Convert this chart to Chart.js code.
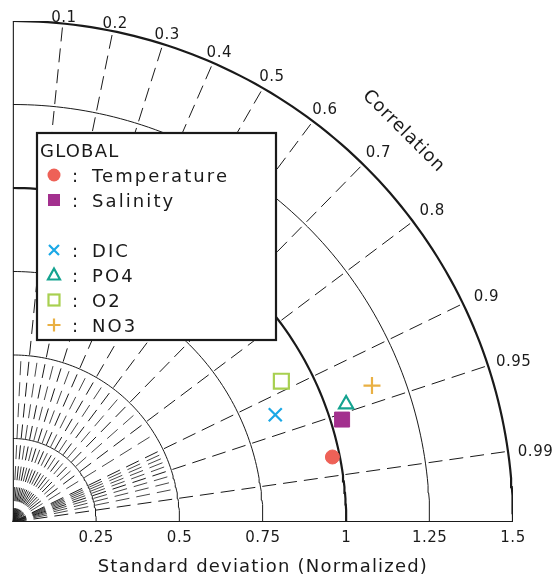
<!DOCTYPE html>
<html>
<head>
<meta charset="utf-8">
<script src="https://cdn.jsdelivr.net/npm/chart.js@4.4.1/dist/chart.umd.min.js"></script>
<style>
  html, body { margin: 0; background: #fff; }
  #wrap { width: 556px; height: 580px; }
</style>
</head>
<body>
<div id="wrap"><canvas id="taylor" width="556" height="580"></canvas></div>
<script>
// data
const variables = ['Temperature', 'Salinity', 'DIC', 'PO4', 'O2', 'NO3'];
const stdDevs = [0.978, 1.034, 0.850, 1.060, 0.909, 1.152];
const correlations = [0.980, 0.955, 0.926, 0.943, 0.886, 0.935];
const markerColors = ['#ee6157', '#a3308e', '#1aa8e6', '#15a390', '#a8d050', '#e9b043'];
const markerStyles = ['circle', 'rect', 'crossRot', 'triangle', 'rect', 'cross'];
const markerFilled = [true, true, false, false, false, false];

const corrTicks = [0.1, 0.2, 0.3, 0.4, 0.5, 0.6, 0.7, 0.8, 0.9, 0.95, 0.99];
const corrTickLabels = ['0.1', '0.2', '0.3', '0.4', '0.5', '0.6', '0.7', '0.8', '0.9', '0.95', '0.99'];
const minorCorr = [0.05, 0.15, 0.25, 0.35, 0.45, 0.55, 0.65, 0.75, 0.85, 0.91, 0.92, 0.93, 0.94, 0.96, 0.97, 0.98];
const stdTicks = [0.25, 0.5, 0.75, 1, 1.25, 1.5];
const stdTickLabels = ['0.25', '0.5', '0.75', '1', '1.25', '1.5'];
const thickArcs = [1, 1.5];

const stdMax = 1.5;
const minorRayLen = 0.5;
const FONT = '"DejaVu Sans", sans-serif';
const INK = '#1a1a1a';

function polar(r, c) {
  return { x: r * c, y: r * Math.sqrt(1 - c * c) };
}

function arcPoints(r) {
  const pts = [];
  for (let a = 0; a <= 90; a += 1) {
    const t = a * Math.PI / 180;
    pts.push({ x: r * Math.cos(t), y: r * Math.sin(t) });
  }
  return pts;
}

const datasets = [];

// markers first so they sit on top
variables.forEach((name, i) => {
  const sizes = { circle: 7, rect: 10.6, crossRot: 9.2, triangle: 8.2, cross: 8.5 };
  datasets.push({
    label: name,
    data: [polar(stdDevs[i], correlations[i])],
    pointStyle: markerStyles[i],
    pointRadius: sizes[markerStyles[i]],
    pointBackgroundColor: markerFilled[i] ? markerColors[i] : '#fff',
    pointBorderColor: markerColors[i],
    pointBorderWidth: markerFilled[i] ? 1 : 2.2,
    showLine: false
  });
});

// axes
datasets.push({
  data: [{ x: 0, y: stdMax }, { x: 0, y: 0 }, { x: stdMax, y: 0 }],
  showLine: true, borderColor: INK, borderWidth: 2.2, pointRadius: 0, tension: 0
});

// std arcs
stdTicks.forEach(r => {
  datasets.push({
    data: arcPoints(r),
    showLine: true, borderColor: INK,
    borderWidth: thickArcs.includes(r) ? 2.2 : 1,
    pointRadius: 0, tension: 0
  });
});

// correlation rays
corrTicks.forEach(c => {
  datasets.push({
    data: [{ x: 0, y: 0 }, polar(stdMax, c)],
    showLine: true, borderColor: INK, borderWidth: 1, borderDash: [14, 7],
    pointRadius: 0, tension: 0
  });
});
minorCorr.forEach(c => {
  datasets.push({
    data: [{ x: 0, y: 0 }, polar(minorRayLen, c)],
    showLine: true, borderColor: '#333', borderWidth: 0.9, borderDash: [14, 7],
    pointRadius: 0, tension: 0
  });
});

function drawMarker(ctx, style, filled, color, x, y) {
  ctx.save();
  ctx.strokeStyle = color;
  ctx.fillStyle = color;
  ctx.lineWidth = 2.2;
  ctx.beginPath();
  if (style === 'circle') {
    ctx.arc(x, y, 6.5, 0, Math.PI * 2);
    ctx.fill();
  } else if (style === 'rect' && filled) {
    ctx.fillRect(x - 6, y - 6, 12, 12);
  } else if (style === 'rect') {
    ctx.strokeRect(x - 5.5, y - 5.5, 11, 11);
  } else if (style === 'crossRot') {
    ctx.moveTo(x - 5, y - 5); ctx.lineTo(x + 5, y + 5);
    ctx.moveTo(x + 5, y - 5); ctx.lineTo(x - 5, y + 5);
    ctx.stroke();
  } else if (style === 'cross') {
    ctx.moveTo(x - 6.5, y); ctx.lineTo(x + 6.5, y);
    ctx.moveTo(x, y - 6.5); ctx.lineTo(x, y + 6.5);
    ctx.stroke();
  } else if (style === 'triangle') {
    ctx.moveTo(x, y - 6.5);
    ctx.lineTo(x + 6, y + 4.5);
    ctx.lineTo(x - 6, y + 4.5);
    ctx.closePath();
    ctx.stroke();
  }
  ctx.restore();
}

const taylorText = {
  id: 'taylorText',
  beforeDatasetsDraw(chart) {
    const { ctx } = chart;
    ctx.save();
    ctx.fillStyle = '#fff';
    ctx.fillRect(0, 0, chart.width, chart.height);
    ctx.restore();
  },
  afterDatasetsDraw(chart) {
    const { ctx, scales: { x, y } } = chart;
    ctx.save();
    ctx.fillStyle = INK;
    ctx.textAlign = 'center';
    ctx.textBaseline = 'middle';

    // correlation labels
    ctx.font = '15px ' + FONT;
    ctx.letterSpacing = '0.5px';
    corrTicks.forEach((c, i) => {
      const p = polar(stdMax, c);
      const px = x.getPixelForValue(p.x);
      const py = y.getPixelForValue(p.y);
      const s = Math.sqrt(1 - c * c);
      const d = 8 + 20 * c;
      ctx.fillText(corrTickLabels[i], px + d * c, py - d * s + 4.5);
    });

    // std tick labels
    stdTicks.forEach((v, i) => {
      ctx.fillText(stdTickLabels[i], x.getPixelForValue(v), y.getPixelForValue(0) + 16);
    });

    // axis title
    ctx.font = '18px ' + FONT;
    ctx.letterSpacing = '1.2px';
    ctx.fillText('Standard deviation (Normalized)', (x.left + x.right) / 2, y.getPixelForValue(0) + 45);

    // "Correlation" along the arc
    const cx = x.getPixelForValue(0), cy = y.getPixelForValue(0);
    const rr = (x.getPixelForValue(1.66) - cx);
    ctx.save();
    ctx.letterSpacing = '0.8px';
    ctx.translate(cx + rr * Math.SQRT1_2, cy - rr * Math.SQRT1_2);
    ctx.rotate(Math.PI / 4);
    ctx.fillText('Correlation', 0, 1);
    ctx.restore();

    // legend box
    const bx = 37, by = 133, bw = 239, bh = 207;
    ctx.fillStyle = '#fff';
    ctx.fillRect(bx, by, bw, bh);
    ctx.strokeStyle = INK;
    ctx.lineWidth = 2.2;
    ctx.strokeRect(bx, by, bw, bh);

    ctx.fillStyle = INK;
    ctx.textAlign = 'left';
    ctx.textBaseline = 'alphabetic';
    ctx.font = '18px ' + FONT;
    ctx.letterSpacing = '1.2px';
    ctx.fillText('GLOBAL', 40, 157);
    const rows = [182, 207, 257, 282, 307, 332];
    variables.forEach((name, i) => {
      const ry = rows[i];
      drawMarker(ctx, markerStyles[i], markerFilled[i], markerColors[i], 54, ry - 7);
      ctx.fillStyle = INK;
      ctx.letterSpacing = '1.2px';
      ctx.fillText(':', 72, ry);
      ctx.letterSpacing = '2.1px';
      ctx.fillText(name, 92, ry);
    });
    ctx.restore();
  }
};

new Chart(document.getElementById('taylor'), {
  type: 'scatter',
  data: { datasets },
  options: {
    responsive: false,
    animation: false,
    devicePixelRatio: 1,
    layout: { padding: { left: 12, top: 21, right: 43, bottom: 58 } },
    scales: {
      x: { type: 'linear', min: 0, max: stdMax, display: false },
      y: { type: 'linear', min: 0, max: stdMax, display: false }
    },
    plugins: { legend: { display: false }, tooltip: { enabled: false } },
    elements: { line: { borderCapStyle: 'butt' } }
  },
  plugins: [taylorText]
});
</script>
</body>
</html>
